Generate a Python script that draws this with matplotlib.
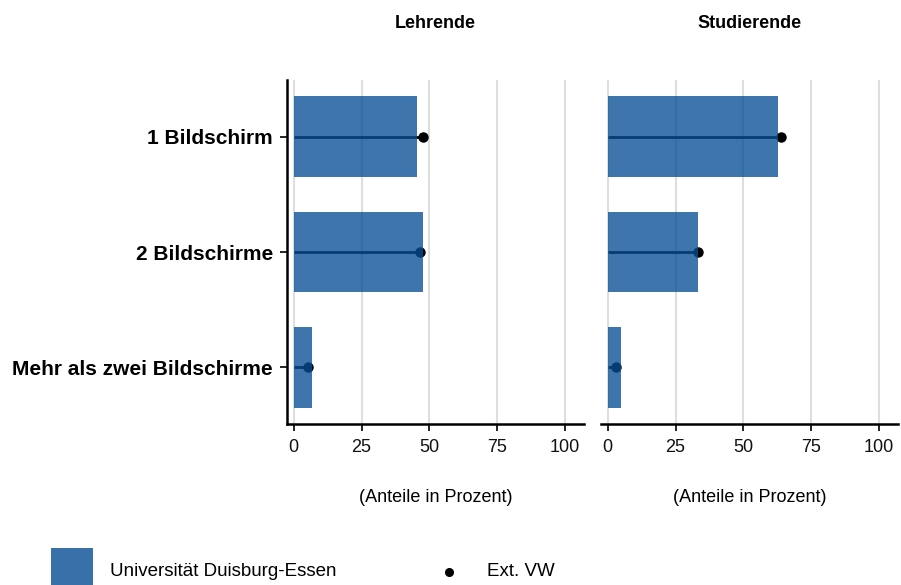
import matplotlib
matplotlib.use("Agg")
import matplotlib.pyplot as plt
from matplotlib.patches import Rectangle
from matplotlib.lines import Line2D

plt.rcParams['font.family'] = ['Liberation Sans', 'DejaVu Sans']

categories = ["1 Bildschirm", "2 Bildschirme", "Mehr als zwei Bildschirme"]
panels = ["Lehrende", "Studierende"]
ude_values = {
    "Lehrende": [45.3, 47.8, 6.6],
    "Studierende": [62.6, 33.1, 4.7],
}
ext_vw_values = {
    "Lehrende": [47.5, 46.5, 5.4],
    "Studierende": [63.8, 33.3, 3.2],
}
xticks = [0, 25, 50, 75, 100]
legend_labels = ["Universität Duisburg-Essen", "Ext. VW"]
xlabel = "(Anteile in Prozent)"

W, H = 901, 585
fig = plt.figure(figsize=(W / 100, H / 100), dpi=100)

bar_color = "#064e95"
bar_alpha = 0.78

def fx(px):
    return px / W

def fy(py):
    return 1 - py / H

axes_px = [(287, 584), (601, 898)]
top_px, bot_px = 80, 424
ypos = [3, 2, 1]

for i, (panel, (x0, x1)) in enumerate(zip(panels, axes_px)):
    ax = fig.add_axes([fx(x0), fy(bot_px), fx(x1 - x0), (bot_px - top_px) / H])
    ax.set_xlim(-2.5, 107)
    ax.set_ylim(0.51, 3.49)
    for t in xticks:
        ax.axvline(t, color="#dedede", lw=1.5, zorder=0)
    # line + dot (drawn under semi-transparent bars)
    for y, v in zip(ypos, ext_vw_values[panel]):
        ax.plot([0, v], [y, y], color="black", lw=2.0, zorder=1, solid_capstyle="butt")
        ax.plot([v], [y], "o", color="black", ms=6.5, zorder=1)
    ax.barh(ypos, ude_values[panel], height=0.7, color=bar_color, alpha=bar_alpha,
            zorder=2, linewidth=0)
    ax.set_xticks(xticks)
    ax.set_xticklabels([str(t) for t in xticks], fontsize=13, color="#111111")
    ax.tick_params(axis="x", length=5, width=1.2, pad=5.5, color="black")
    for s in ["top", "right"]:
        ax.spines[s].set_visible(False)
    ax.spines["bottom"].set_linewidth(1.8)
    if i == 0:
        ax.spines["left"].set_linewidth(1.8)
        ax.set_yticks(ypos)
        ax.set_yticklabels(categories, fontsize=15, fontweight="bold", color="black")
        ax.tick_params(axis="y", length=5, width=1.2, pad=5, color="black")
    else:
        ax.spines["left"].set_visible(False)
        ax.set_yticks([])
    fig.text(fx((x0 + x1) / 2), fy(23), panel, ha="center", va="center",
             fontsize=13, fontweight="bold")
    fig.text(fx((x0 + x1) / 2), fy(497), xlabel, ha="center", va="center", fontsize=13)

# legend
fig.patches.append(Rectangle((fx(51), fy(585)), fx(42), (585 - 548) / H,
                             transform=fig.transFigure, facecolor="#3871aa",
                             edgecolor="none"))
fig.text(fx(110), fy(572), legend_labels[0], ha="left", va="center", fontsize=13.5)
fig.lines.append(Line2D([fx(449)], [fy(572)], marker="o", color="black", ms=5.5,
                        transform=fig.transFigure))
fig.text(fx(487), fy(572), legend_labels[1], ha="left", va="center", fontsize=13.5)

fig.savefig("out.png", dpi=100)
